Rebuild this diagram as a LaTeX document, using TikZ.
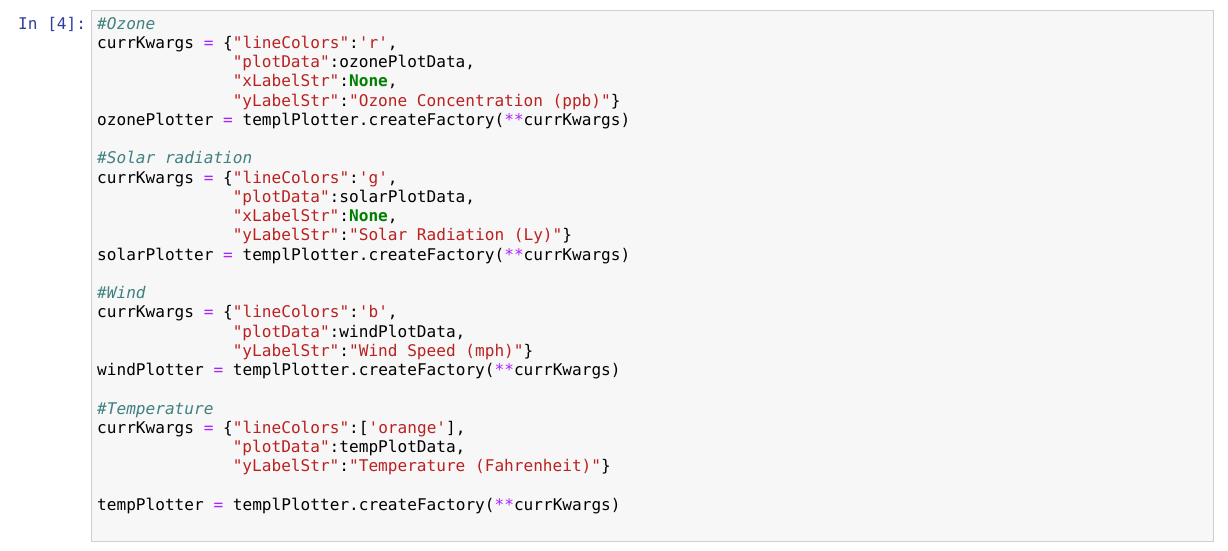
\documentclass[tikz,border=0pt]{standalone}
\usepackage{fontspec}
\setmonofont{DejaVu Sans Mono}
\definecolor{cstr}{HTML}{BA2121}
\definecolor{cop}{HTML}{AA22FF}
\definecolor{cnone}{HTML}{008000}
\definecolor{ccom}{HTML}{408080}
\definecolor{cprompt}{HTML}{303F9F}
\definecolor{cbg}{HTML}{F7F7F7}
\definecolor{cbd}{HTML}{CFCFCF}
\newcommand\cS[1]{\textcolor{cstr}{#1}}
\newcommand\cO[1]{\textcolor{cop}{#1}}
\newcommand\cN{\textcolor{cnone}{\bfseries None}}
\newcommand\cC[1]{\textcolor{ccom}{\itshape #1}}
\begin{document}
\begin{tikzpicture}[x=1pt,y=-1pt,
  code/.style={anchor=west,inner sep=0pt,font=\ttfamily\fontsize{16.1}{19}\selectfont,text height=12pt,text depth=3.5pt}]
\useasboundingbox (0,0) rectangle (1228,550);
\draw[cbd,fill=cbg] (91.5,10.5) rectangle (1213.5,541.5);
\node[code,text=cprompt] (p) at (18,25) {In [4]:};
\def\ind{232.6}
\node[code] (l1) at (97,25) {\cC{\#Ozone}};
\node[code] (l2) at (97,44.2) {currKwargs \cO{=} \{\cS{"lineColors"}:\cS{'r'},};
\node[code] (l3) at (\ind,63.5) {\cS{"plotData"}:ozonePlotData,};
\node[code] (l4) at (\ind,82.7) {\cS{"xLabelStr"}:\cN,};
\node[code] (l5) at (\ind,102) {\cS{"yLabelStr"}:\cS{"Ozone Concentration (ppb)"}\}};
\node[code] (l6) at (97,121.2) {ozonePlotter \cO{=} templPlotter.createFactory(\cO{**}currKwargs)};
\node[code] (l8) at (97,159.7) {\cC{\#Solar radiation}};
\node[code] (l9) at (97,178.9) {currKwargs \cO{=} \{\cS{"lineColors"}:\cS{'g'},};
\node[code] (l10) at (\ind,198.2) {\cS{"plotData"}:solarPlotData,};
\node[code] (l11) at (\ind,217.4) {\cS{"xLabelStr"}:\cN,};
\node[code] (l12) at (\ind,236.7) {\cS{"yLabelStr"}:\cS{"Solar Radiation (Ly)"}\}};
\node[code] (l13) at (97,255.9) {solarPlotter \cO{=} templPlotter.createFactory(\cO{**}currKwargs)};
\node[code] (l15) at (97,294.4) {\cC{\#Wind}};
\node[code] (l16) at (97,313.6) {currKwargs \cO{=} \{\cS{"lineColors"}:\cS{'b'},};
\node[code] (l17) at (\ind,332.9) {\cS{"plotData"}:windPlotData,};
\node[code] (l18) at (\ind,352.1) {\cS{"yLabelStr"}:\cS{"Wind Speed (mph)"}\}};
\node[code] (l19) at (97,371.4) {windPlotter \cO{=} templPlotter.createFactory(\cO{**}currKwargs)};
\node[code] (l21) at (97,409.9) {\cC{\#Temperature}};
\node[code] (l22) at (97,429.1) {currKwargs \cO{=} \{\cS{"lineColors"}:[\cS{'orange'}],};
\node[code] (l23) at (\ind,448.4) {\cS{"plotData"}:tempPlotData,};
\node[code] (l24) at (\ind,467.6) {\cS{"yLabelStr"}:\cS{"Temperature (Fahrenheit)"}\}};
\node[code] (l26) at (97,506.1) {tempPlotter \cO{=} templPlotter.createFactory(\cO{**}currKwargs)};
\end{tikzpicture}
\end{document}
